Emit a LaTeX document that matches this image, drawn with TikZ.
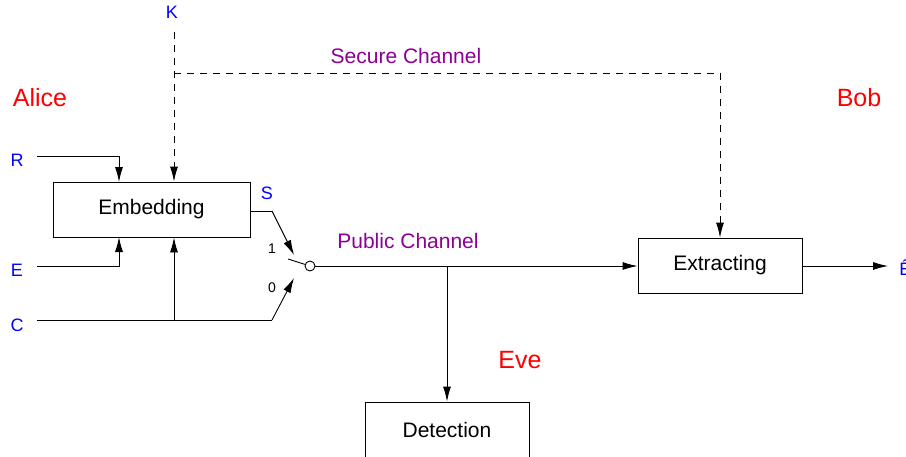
\documentclass[tikz,border=0pt]{standalone}
\usepackage{fontspec}
\setmainfont{Liberation Sans}
\usetikzlibrary{arrows.meta}
\definecolor{chanviolet}{RGB}{140,0,150}

\begin{document}
\begin{tikzpicture}[x=1pt,y=-1pt,line width=0.9pt,
  >={Latex[length=15pt,width=8pt]},
  block/.style={draw,rectangle,minimum height=55pt,inner sep=0pt,font=\fontsize{21}{25}\selectfont},
  sig/.style={text=blue,font=\fontsize{18}{22}\selectfont},
  who/.style={text=red,font=\fontsize{25}{30}\selectfont},
  chan/.style={text=chanviolet,font=\fontsize{21}{25}\selectfont},
  swpos/.style={font=\fontsize{14}{16}\selectfont},
  keyline/.style={dash pattern=on 7pt off 6pt}]
\useasboundingbox (0,0) rectangle (906,456);

%%%%%%%%% blocks
\node[block,minimum width=197pt] (embed) at (151.5,209.5) {Embedding};
\node[block,minimum width=164pt] (extract) at (720,265.5) {Extracting};
\node[block,minimum width=164pt] (detect) at (447,429.5) {Detection};

%%%%%%%%% parties
\node[who] (alice) at (40,98) {Alice};
\node[who] (bob) at (859,98) {Bob};
\node[who] (eve) at (520,360) {Eve};

\node[chan] (secure) at (406,56) {Secure Channel};
\node[chan] (public) at (408,241) {Public Channel};

%%%%%%%%% signals
\node[sig] (k) at (172,12) {K};
\node[sig] (r) at (17,160) {R};
\node[sig] (e) at (17,270) {E};
\node[sig] (c) at (17,325) {C};
\node[sig] (s) at (267,193) {S};
\node[sig,anchor=west,inner sep=0pt] (ehat) at (899,268) {\^{E}};

\node[swpos] (one) at (272,249) {1};
\node[swpos] (zero) at (272,288) {0};

%%%%%%%%% key
\coordinate (ktop) at (174,32);
\coordinate (kturn) at (174,73);
\draw[keyline,->] (ktop) -- (ktop |- embed.north);
\draw[keyline,->] (kturn) -| (extract.north);

%%%%%%%%% inputs
\coordinate (rin) at (37,156);
\coordinate (rdown) at (119,182);
\coordinate (ein) at (37,266);
\coordinate (eup) at (119,237);
\coordinate (cin) at (37,320);
\coordinate (csplit) at (174,320);
\coordinate (cbend) at (272,320);
\draw[->] (rin) -| (rdown);
\draw[->] (ein) -| (eup);
\draw (cin) -- (cbend);
\draw[->] (csplit) -- (csplit |- embed.south);

%%%%%%%%% switch
\node[draw,circle,inner sep=0pt,minimum size=10pt] (sw) at (310,266) {};
\coordinate (lever) at (288,259);
\coordinate (sout) at (250,211);
\coordinate (sbend) at (272,211);
\coordinate (tip1) at (294,255);
\coordinate (tip0) at (294,278);
\draw (lever) -- (sw);
\draw (sout) -- (sbend);
\draw[->] (sbend) -- (tip1);
\draw[->] (cbend) -- (tip0);

%%%%%%%%% channel
\coordinate (tap) at (447,266);
\draw[->] (sw.east) -- (sw.east -| extract.west);
\draw[->] (tap) -- (detect.north);
\coordinate (out) at (888,266);
\draw[->] (extract.east |- out) -- (out);

\end{tikzpicture}
\end{document}
